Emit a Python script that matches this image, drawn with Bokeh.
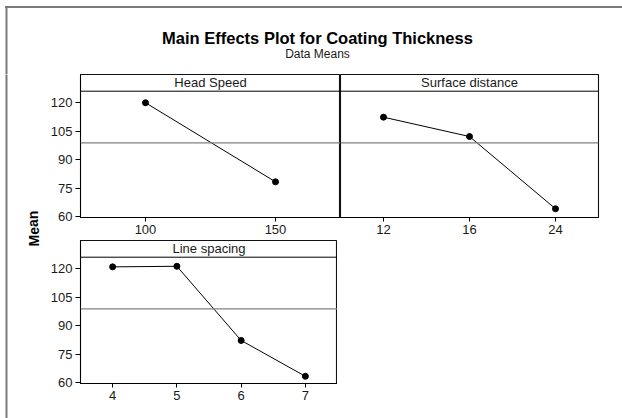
from bokeh.plotting import figure
from bokeh.models import Range1d, FactorRange, FixedTicker, Span, Label
from bokeh.layouts import column, row
from bokeh.embed import file_html
from bokeh.resources import INLINE

# ---- data ----
TITLE = "Main Effects Plot for Coating Thickness"
SUBTITLE = "Data Means"
Y_LABEL = "Mean"

hs_name = "Head Speed"
hs_levels = ["100", "150"]
hs_means = [120.1, 78.4]

sd_name = "Surface distance"
sd_levels = ["12", "16", "24"]
sd_means = [112.5, 102.3, 64.2]

ls_name = "Line spacing"
ls_levels = ["4", "5", "6", "7"]
ls_means = [121.1, 121.4, 82.3, 63.4]

grand_mean = 99.0
y_ticks = [60, 75, 90, 105, 120]

# ---- styling / layout constants ----
FONT = "Liberation Sans"
Y_BOTTOM, Y_TOP = 59.6, 135.0
HEADER_Y = 126.2
FRAME_GRAY = "#7a7a7a"
W_TOTAL = 622


def blank_fig(w, h, xr, yr):
    p = figure(width=w, height=h, x_range=xr, y_range=yr,
               x_axis_location=None, y_axis_location=None,
               toolbar_location=None, output_backend="svg", min_border=0)
    p.outline_line_color = None
    p.grid.grid_line_color = None
    p.background_fill_color = "white"
    p.border_fill_color = "white"
    return p


def panel(name, levels, means, w, h, show_y, mb_left, mb_right, mb_bottom):
    p = figure(width=w, height=h,
               x_range=FactorRange(factors=levels, range_padding=0),
               y_range=Range1d(Y_BOTTOM, Y_TOP),
               y_axis_location="left" if show_y else None,
               toolbar_location=None, output_backend="svg",
               min_border_left=mb_left, min_border_right=mb_right,
               min_border_top=0, min_border_bottom=mb_bottom)
    p.grid.grid_line_color = None
    p.outline_line_color = "#111111"
    p.outline_line_width = 1.1
    p.background_fill_color = "white"
    p.border_fill_color = "white"

    ax = p.xaxis[0]
    ax.major_tick_in = 0
    ax.major_tick_out = 4
    ax.major_label_standoff = 3
    ax.major_label_text_font = FONT
    ax.major_label_text_font_size = "13px"
    ax.major_label_text_color = "#1a1a1a"
    ax.axis_line_color = "black"
    ax.major_tick_line_color = "black"

    if show_y:
        ay = p.yaxis[0]
        ay.ticker = FixedTicker(ticks=y_ticks)
        ay.minor_tick_line_color = None
        ay.major_tick_in = 0
        ay.major_tick_out = 5
        ay.major_label_standoff = 3
        ay.major_label_text_font = FONT
        ay.major_label_text_font_size = "13px"
        ay.major_label_text_color = "#1a1a1a"
        ay.axis_line_color = "black"
        ay.major_tick_line_color = "black"

    # header strip
    p.add_layout(Span(location=HEADER_Y, dimension="width",
                      line_color="black", line_width=1))
    p.add_layout(Label(x=len(levels) / 2, y=(HEADER_Y + Y_TOP) / 2, text=name,
                       text_align="center", text_baseline="middle",
                       text_font=FONT, text_font_size="13px",
                       text_color="#1a1a1a"))
    # grand mean reference line
    p.add_layout(Span(location=grand_mean, dimension="width",
                      line_color="#808080", line_width=1.2))

    p.line(x=levels, y=means, line_color="black", line_width=1)
    p.scatter(x=levels, y=means, size=6, fill_color="black", line_color="black")
    return p


# title area (page y 0-74); transparent so a CSS-drawn top frame edge shows
title_fig = blank_fig(W_TOTAL, 74, Range1d(0, W_TOTAL), Range1d(0, 74))
title_fig.background_fill_color = None
title_fig.border_fill_color = None
title_fig.styles = {
    "background-color": "white",
    "background-image": f"linear-gradient({FRAME_GRAY}, {FRAME_GRAY})",
    "background-size": "617px 2px",
    "background-position": "5px 6px",
    "background-repeat": "no-repeat",
}
title_fig.add_layout(Label(x=317, y=37, text=TITLE, text_align="center",
                           text_baseline="middle", text_font=FONT,
                           text_font_style="bold", text_font_size="16.5px",
                           text_color="black"))
title_fig.add_layout(Label(x=317, y=21, text=SUBTITLE, text_align="center",
                           text_baseline="middle", text_font=FONT,
                           text_font_size="12px", text_color="#1a1a1a"))
# left edge of the outer frame
title_fig.line(x=[6, 6], y=[-20, 68], line_color=FRAME_GRAY, line_width=2)

# left strip with "Mean" (page x 0-42, y 74-418)
strip = blank_fig(42, 344, Range1d(0, 42), Range1d(0, 344))
strip.add_layout(Label(x=33, y=190, text=Y_LABEL, angle=1.5708,
                       text_align="center", text_baseline="middle",
                       text_font=FONT, text_font_style="bold",
                       text_font_size="14px", text_color="black"))
strip.line(x=[6, 6], y=[-20, 364], line_color=FRAME_GRAY, line_width=2)

fig1 = panel(hs_name, hs_levels, hs_means, 298, 166, True, 38, 0, 23)
fig2 = panel(sd_name, sd_levels, sd_means, 282, 166, False, 0, 24, 23)
fig3 = panel(ls_name, ls_levels, ls_means, 295, 178, True, 38, 0, 35)

layout = column(title_fig, row(strip, column(row(fig1, fig2), fig3)))

open("out.html", "w").write(file_html(layout, INLINE))
